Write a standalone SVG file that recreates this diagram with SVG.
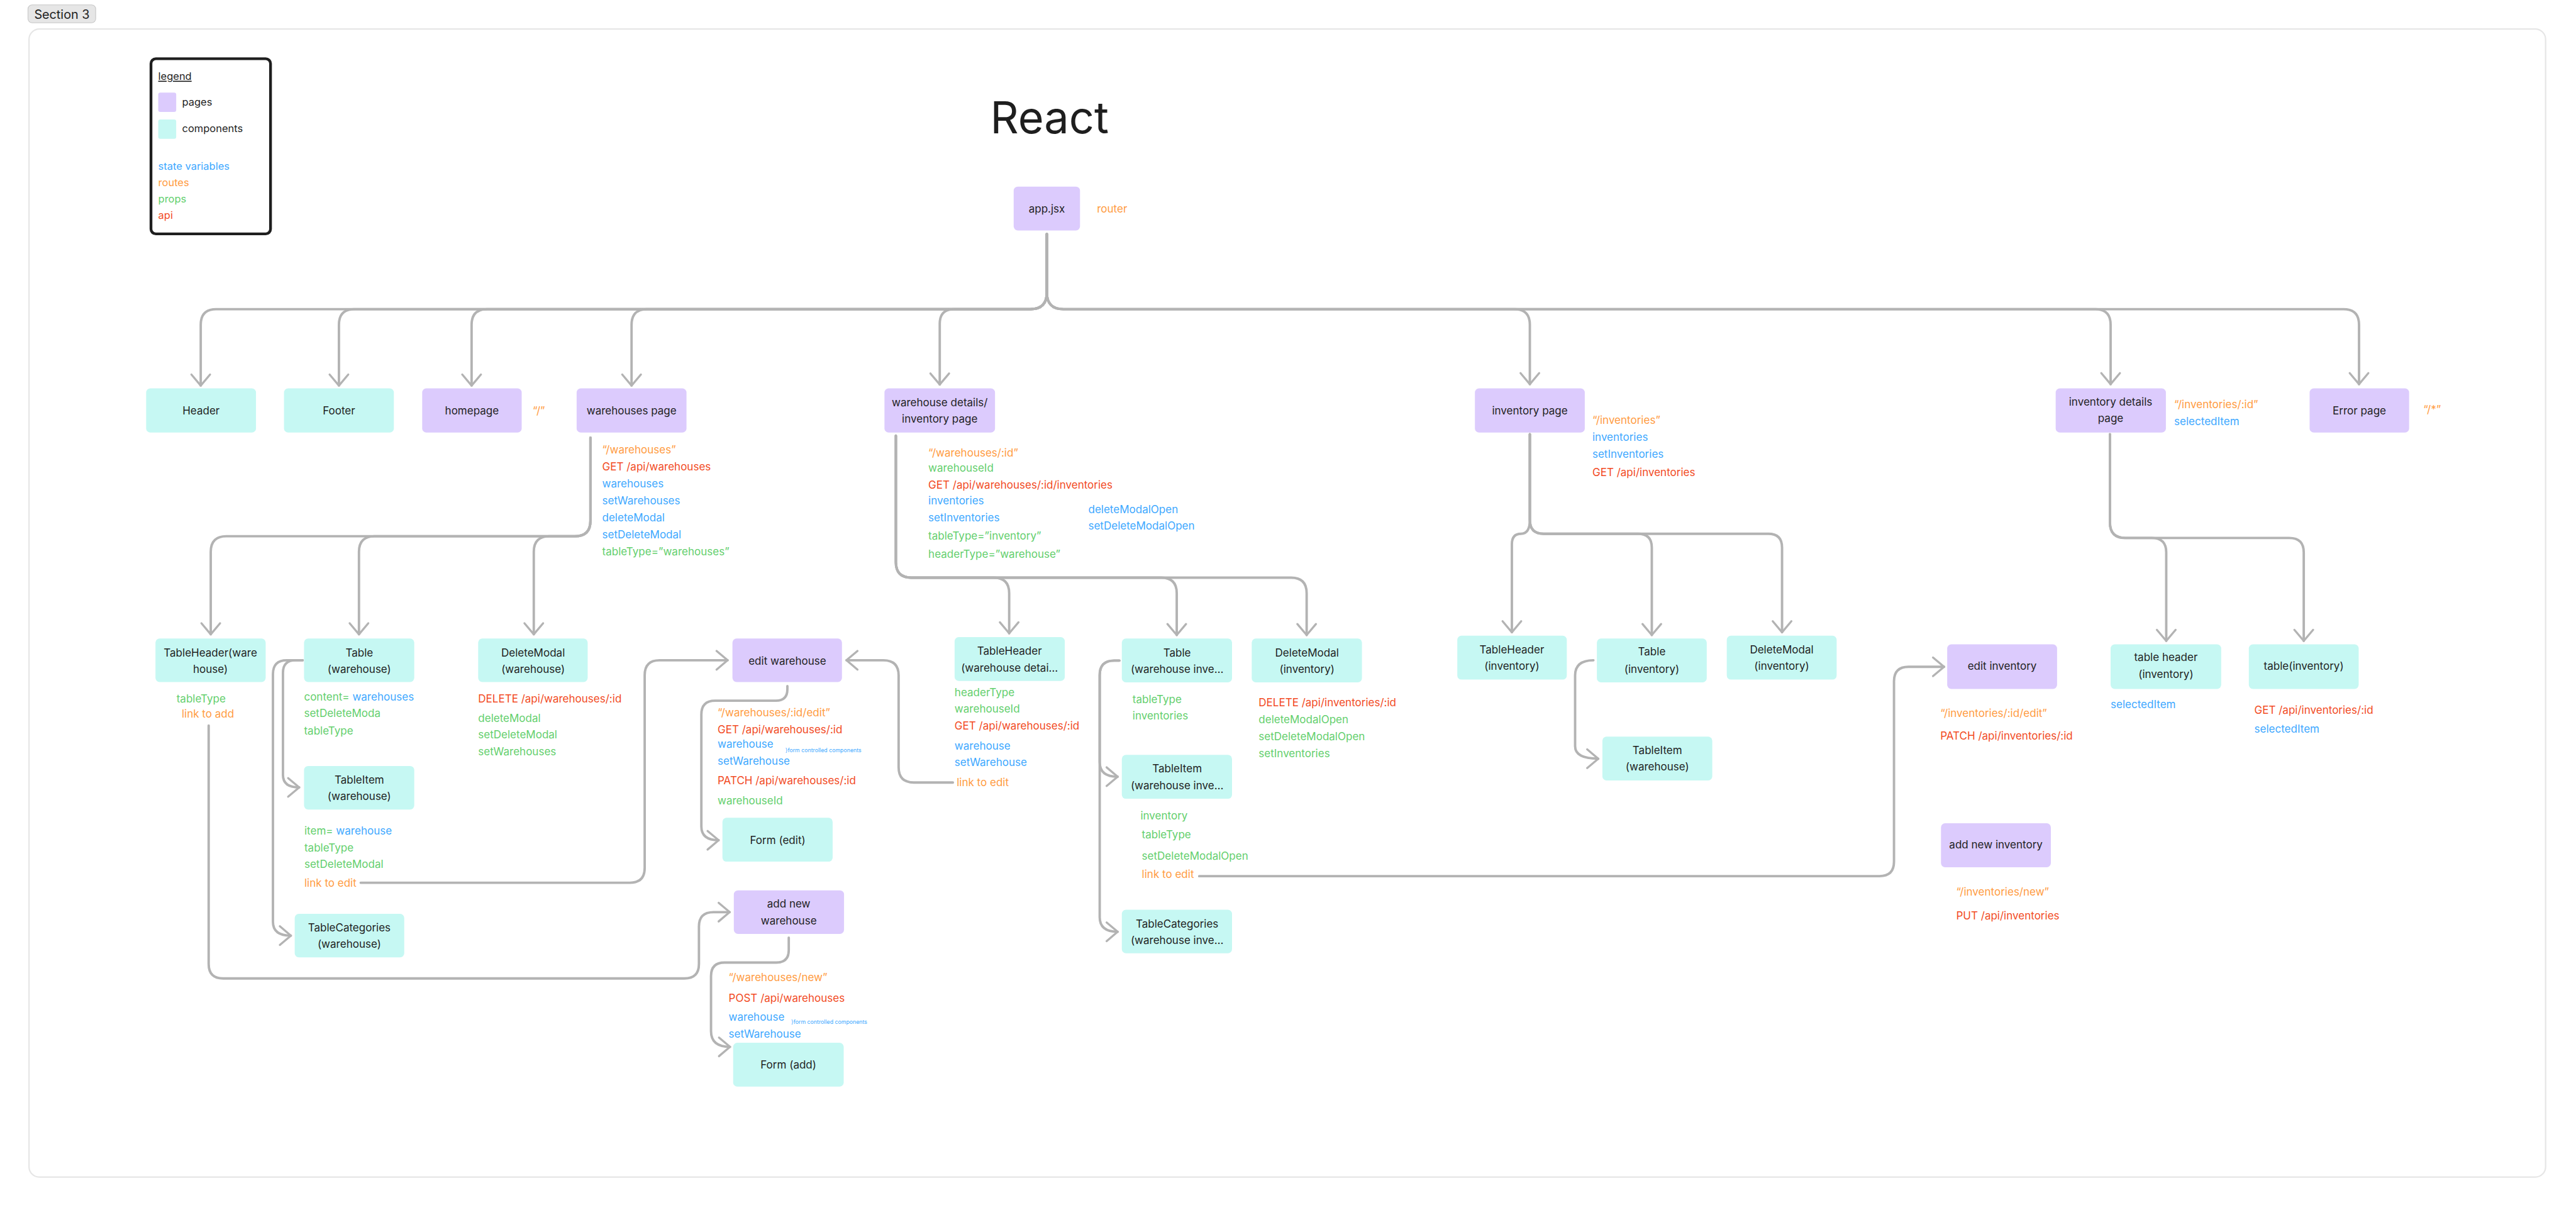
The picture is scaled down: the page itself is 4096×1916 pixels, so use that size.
<svg xmlns="http://www.w3.org/2000/svg" width="4096" height="1916" viewBox="0 0 4096 1916">
<style>
.pg{fill:#dccbfd}
.cp{fill:#c6f8f3}
text{font-family:Inter,"Liberation Sans",sans-serif;font-size:31px}
.lbl{fill:#1e1e1e;text-anchor:middle}
.st{fill:#3da8ff}
.rt{fill:#ff9b3f}
.pr{fill:#63cf6d}
.api{fill:#f24a23}
.sm{font-size:16px}
.c{fill:none;stroke:#b3b3b3;stroke-width:7;stroke-linecap:round;stroke-linejoin:round;marker-end:url(#ah)}
</style>
<defs>
<marker id="ah" markerUnits="userSpaceOnUse" markerWidth="80" markerHeight="80" viewBox="-40 -40 80 80" refX="0" refY="0" orient="auto" overflow="visible">
<path d="M -32 -27 L 0 0 L -32 27" fill="none" stroke="#b3b3b3" stroke-width="6" stroke-linecap="round" stroke-linejoin="round"/>
</marker>
</defs>
<rect width="4096" height="1916" fill="#ffffff"/>
<g transform="scale(0.549356)">
<!-- section frame -->
<rect x="84" y="84" width="7284" height="3323" rx="30" fill="none" stroke="#e6e6e6" stroke-width="4"/>
<g id="section-label">
<rect x="81" y="14" width="196" height="52" rx="12" fill="#e6e6e6" stroke="#c8c8c8" stroke-width="2"/>
<text x="99" y="55" style="font-size:36px" fill="#1e1e1e">Section 3</text>
</g>
<!-- legend -->
<g id="legend">
<rect x="437" y="170" width="346" height="507" rx="14" fill="#ffffff" stroke="#1e1e1e" stroke-width="8"/>
<text x="458" y="232" fill="#1e1e1e" text-decoration="underline" style="font-size:30px">legend</text>
<rect x="458" y="268" width="52" height="56" rx="6" class="pg"/>
<text x="527" y="305" fill="#1e1e1e" style="font-size:30px">pages</text>
<rect x="458" y="346" width="52" height="56" rx="6" class="cp"/>
<text x="527" y="383" fill="#1e1e1e" style="font-size:30px">components</text>
<text x="458" y="491" class="st" style="font-size:30px">state variables</text>
<text x="458" y="539" class="rt" style="font-size:30px">routes</text>
<text x="458" y="587" class="pr" style="font-size:30px">props</text>
<text x="458" y="634" class="api" style="font-size:30px">api</text>
</g>
<text id="title" x="2866" y="386" fill="#1e1e1e" style="font-size:128px">React</text>

<!-- connectors -->
<g id="connectors">
<path class="c" d="M 3030 677 V 847 Q 3030 895 2982 895 H 626 Q 581 895 581 940 V 1116"/>
<path class="c" d="M 3030 677 V 847 Q 3030 895 2982 895 H 1026 Q 981 895 981 940 V 1116"/>
<path class="c" d="M 3030 677 V 847 Q 3030 895 2982 895 H 1410 Q 1365 895 1365 940 V 1116"/>
<path class="c" d="M 3030 677 V 847 Q 3030 895 2982 895 H 1873 Q 1828 895 1828 940 V 1116"/>
<path class="c" d="M 3030 677 V 847 Q 3030 895 2982 895 H 2762 Q 2720 895 2720 937 V 1113"/>
<path class="c" d="M 3030 677 V 847 Q 3030 895 3078 895 H 4383 Q 4428 895 4428 940 V 1112"/>
<path class="c" d="M 3030 677 V 847 Q 3030 895 3078 895 H 6064 Q 6109 895 6109 940 V 1112"/>
<path class="c" d="M 3030 677 V 847 Q 3030 895 3078 895 H 6783 Q 6828 895 6828 940 V 1112"/>

<path class="c" d="M 1709 1267 V 1507 Q 1709 1552 1664 1552 H 655 Q 610 1552 610 1597 V 1836"/>
<path class="c" d="M 1709 1267 V 1507 Q 1709 1552 1664 1552 H 1084 Q 1039 1552 1039 1597 V 1836"/>
<path class="c" d="M 1709 1267 V 1507 Q 1709 1552 1664 1552 H 1590 Q 1545 1552 1545 1597 V 1836"/>

<path class="c" d="M 876 1911 H 855 Q 819 1911 819 1947 V 2243 Q 819 2279 866 2279"/>
<path class="c" d="M 876 1911 H 830 Q 790 1911 790 1951 V 2668 Q 790 2708 842 2708"/>

<path class="c" d="M 604 2100 V 2790 Q 604 2832 646 2832 H 1981 Q 2023 2832 2023 2790 V 2682 Q 2023 2640 2065 2640 H 2112"/>
<path class="c" d="M 1044 2555 H 1823 Q 1866 2555 1866 2512 V 1954 Q 1866 1911 1909 1911 H 2106"/>
<path class="c" d="M 2279 1986 V 1995 Q 2279 2028 2246 2028 H 2070 Q 2030 2028 2030 2068 V 2392 Q 2030 2432 2080 2432"/>
<path class="c" d="M 2283 2714 V 2750 Q 2283 2786 2247 2786 H 2097 Q 2058 2786 2058 2825 V 2985 Q 2058 3030 2113 3030"/>

<path class="c" d="M 2593 1261 V 1627 Q 2593 1672 2638 1672 H 2876 Q 2921 1672 2921 1717 V 1833"/>
<path class="c" d="M 2593 1261 V 1627 Q 2593 1672 2638 1672 H 3361 Q 3406 1672 3406 1717 V 1838"/>
<path class="c" d="M 2593 1261 V 1627 Q 2593 1672 2638 1672 H 3737 Q 3782 1672 3782 1717 V 1838"/>

<path class="c" d="M 2758 2265 H 2645 Q 2601 2265 2601 2221 V 1955 Q 2601 1911 2557 1911 H 2450"/>

<path class="c" d="M 3240 1912 H 3225 Q 3183 1912 3183 1954 V 2206 Q 3183 2248 3235 2248"/>
<path class="c" d="M 3240 1912 H 3225 Q 3183 1912 3183 1954 V 2655 Q 3183 2697 3235 2697"/>

<path class="c" d="M 3471 2536 H 5440 Q 5482 2536 5482 2494 V 1972 Q 5482 1930 5524 1930 H 5627"/>

<path class="c" d="M 4428 1257 V 1505 Q 4428 1545 4402 1545 Q 4376 1545 4376 1575 V 1830"/>
<path class="c" d="M 4428 1257 V 1505 Q 4428 1545 4468 1545 H 4741 Q 4781 1545 4781 1585 V 1838"/>
<path class="c" d="M 4428 1257 V 1505 Q 4428 1545 4468 1545 H 5118 Q 5158 1545 5158 1585 V 1830"/>

<path class="c" d="M 4612 1911 Q 4559 1911 4559 1955 V 2160 Q 4559 2196 4626 2196"/>

<path class="c" d="M 6107 1257 V 1512 Q 6107 1557 6152 1557 H 6228 Q 6270 1557 6270 1599 V 1855"/>
<path class="c" d="M 6107 1257 V 1512 Q 6107 1557 6152 1557 H 6626 Q 6668 1557 6668 1599 V 1855"/>
</g>

<!-- nodes -->
<g id="app-jsx">
<rect x="2934" y="540" width="192" height="127" rx="12" class="pg"/>
<text x="3030" y="616" class="lbl">app.jsx</text>
<text x="3175" y="616" class="rt">router</text>
</g>

<g id="header"><rect x="423" y="1124" width="318" height="128" rx="12" class="cp"/><text x="582" y="1200" class="lbl">Header</text></g>
<g id="footer"><rect x="822" y="1124" width="318" height="128" rx="12" class="cp"/><text x="981" y="1200" class="lbl">Footer</text></g>
<g id="homepage"><rect x="1222" y="1124" width="288" height="128" rx="12" class="pg"/><text x="1366" y="1200" class="lbl">homepage</text>
<text x="1542" y="1200" class="rt">“/”</text></g>
<g id="warehouses-page"><rect x="1669" y="1124" width="318" height="128" rx="12" class="pg"/><text x="1828" y="1200" class="lbl">warehouses page</text>
<text x="1743" y="1313" class="rt">“/warehouses”</text>
<text x="1743" y="1362" class="api">GET /api/warehouses</text>
<text x="1743" y="1411" class="st">warehouses</text>
<text x="1743" y="1460" class="st">setWarehouses</text>
<text x="1743" y="1509" class="st">deleteModal</text>
<text x="1743" y="1558" class="st">setDeleteModal</text>
<text x="1743" y="1607" class="pr">tableType=”warehouses”</text>
</g>
<g id="warehouse-details-page"><rect x="2560" y="1124" width="320" height="128" rx="12" class="pg"/>
<text x="2720" y="1176" class="lbl">warehouse details/</text><text x="2720" y="1224" class="lbl">inventory page</text>
<text x="2687" y="1322" class="rt">“/warehouses/:id”</text>
<text x="2687" y="1366" class="pr">warehouseId</text>
<text x="2687" y="1414" class="api">GET /api/warehouses/:id/inventories</text>
<text x="2687" y="1460" class="st">inventories</text>
<text x="2687" y="1509" class="st">setInventories</text>
<text x="2687" y="1562" class="pr">tableType=”inventory”</text>
<text x="2687" y="1614" class="pr">headerType=”warehouse”</text>
<text x="3150" y="1485" class="st">deleteModalOpen</text>
<text x="3150" y="1533" class="st">setDeleteModalOpen</text>
</g>
<g id="inventory-page"><rect x="4269" y="1124" width="318" height="128" rx="12" class="pg"/><text x="4428" y="1200" class="lbl">inventory page</text>
<text x="4609" y="1226" class="rt">“/inventories”</text>
<text x="4609" y="1276" class="st">inventories</text>
<text x="4609" y="1325" class="st">setInventories</text>
<text x="4609" y="1378" class="api">GET /api/inventories</text>
</g>
<g id="inventory-details-page"><rect x="5950" y="1124" width="319" height="128" rx="12" class="pg"/>
<text x="6109" y="1174" class="lbl">inventory details</text><text x="6109" y="1222" class="lbl">page</text>
<text x="6293" y="1182" class="rt">“/inventories/:id”</text>
<text x="6293" y="1230" class="st">selectedItem</text>
</g>
<g id="error-page"><rect x="6685" y="1124" width="288" height="128" rx="12" class="pg"/><text x="6829" y="1200" class="lbl">Error page</text>
<text x="7014" y="1196" class="rt">“/*”</text></g>

<g id="tableheader-warehouse"><rect x="450" y="1848" width="319" height="126" rx="12" class="cp"/>
<text x="609" y="1900" class="lbl">TableHeader(ware</text><text x="609" y="1947" class="lbl">house)</text>
<text x="511" y="2033" class="pr">tableType</text>
<text x="526" y="2077" class="rt">link to add</text></g>
<g id="table-warehouse"><rect x="880" y="1848" width="319" height="126" rx="12" class="cp"/>
<text x="1040" y="1900" class="lbl">Table</text><text x="1040" y="1947" class="lbl">(warehouse)</text>
<text x="880" y="2028"><tspan class="pr">content= </tspan><tspan class="st">warehouses</tspan></text>
<text x="880" y="2076" class="pr">setDeleteModa</text>
<text x="880" y="2126" class="pr">tableType</text></g>
<g id="deletemodal-warehouse"><rect x="1384" y="1848" width="317" height="126" rx="12" class="cp"/>
<text x="1543" y="1900" class="lbl">DeleteModal</text><text x="1543" y="1947" class="lbl">(warehouse)</text>
<text x="1384" y="2033" class="api">DELETE /api/warehouses/:id</text>
<text x="1384" y="2089" class="pr">deleteModal</text>
<text x="1384" y="2137" class="pr">setDeleteModal</text>
<text x="1384" y="2186" class="pr">setWarehouses</text></g>
<g id="tableitem-warehouse"><rect x="880" y="2217" width="319" height="126" rx="12" class="cp"/>
<text x="1040" y="2268" class="lbl">TableItem</text><text x="1040" y="2315" class="lbl">(warehouse)</text>
<text x="881" y="2416"><tspan class="pr">item= </tspan><tspan class="st">warehouse</tspan></text>
<text x="881" y="2464" class="pr">tableType</text>
<text x="881" y="2512" class="pr">setDeleteModal</text>
<text x="881" y="2566" class="rt">link to edit</text></g>
<g id="tablecategories-warehouse"><rect x="853" y="2645" width="317" height="126" rx="12" class="cp"/>
<text x="1011" y="2695" class="lbl">TableCategories</text><text x="1011" y="2744" class="lbl">(warehouse)</text></g>

<g id="edit-warehouse"><rect x="2120" y="1848" width="317" height="126" rx="12" class="pg"/>
<text x="2279" y="1924" class="lbl">edit warehouse</text>
<text x="2077" y="2074" class="rt">“/warehouses/:id/edit”</text>
<text x="2077" y="2123" class="api">GET /api/warehouses/:id</text>
<text x="2077" y="2165" class="st">warehouse</text>
<text x="2273" y="2177" class="st sm">}form controlled components</text>
<text x="2077" y="2213" class="st">setWarehouse</text>
<text x="2077" y="2270" class="api">PATCH /api/warehouses/:id</text>
<text x="2077" y="2328" class="pr">warehouseId</text></g>
<g id="form-edit"><rect x="2091" y="2367" width="319" height="127" rx="12" class="cp"/>
<text x="2251" y="2442" class="lbl">Form (edit)</text></g>
<g id="add-new-warehouse"><rect x="2124" y="2577" width="319" height="126" rx="12" class="pg"/>
<text x="2283" y="2627" class="lbl">add new</text><text x="2283" y="2676" class="lbl">warehouse</text>
<text x="2109" y="2840" class="rt">“/warehouses/new”</text>
<text x="2109" y="2900" class="api">POST /api/warehouses</text>
<text x="2109" y="2955" class="st">warehouse</text>
<text x="2290" y="2963" class="st sm">}form controlled components</text>
<text x="2109" y="3003" class="st">setWarehouse</text></g>
<g id="form-add"><rect x="2122" y="3018" width="320" height="127" rx="12" class="cp"/>
<text x="2282" y="3093" class="lbl">Form (add)</text></g>

<g id="tableheader-warehouse-details"><rect x="2763" y="1844" width="319" height="127" rx="12" class="cp"/>
<text x="2922" y="1895" class="lbl">TableHeader</text><text x="2922" y="1944" class="lbl">(warehouse detai…</text>
<text x="2763" y="2015" class="pr">headerType</text>
<text x="2763" y="2063" class="pr">warehouseId</text>
<text x="2763" y="2111" class="api">GET /api/warehouses/:id</text>
<text x="2763" y="2169" class="st">warehouse</text>
<text x="2763" y="2217" class="st">setWarehouse</text>
<text x="2769" y="2275" class="rt">link to edit</text></g>
<g id="table-warehouse-inventory"><rect x="3247" y="1848" width="319" height="127" rx="12" class="cp"/>
<text x="3407" y="1900" class="lbl">Table</text><text x="3407" y="1948" class="lbl">(warehouse inve…</text>
<text x="3278" y="2035" class="pr">tableType</text>
<text x="3278" y="2082" class="pr">inventories</text></g>
<g id="deletemodal-inventory-wd"><rect x="3623" y="1848" width="319" height="127" rx="12" class="cp"/>
<text x="3783" y="1900" class="lbl">DeleteModal</text><text x="3783" y="1948" class="lbl">(inventory)</text>
<text x="3643" y="2045" class="api">DELETE /api/inventories/:id</text>
<text x="3643" y="2094" class="pr">deleteModalOpen</text>
<text x="3643" y="2142" class="pr">setDeleteModalOpen</text>
<text x="3643" y="2191" class="pr">setInventories</text></g>
<g id="tableitem-warehouse-inventory"><rect x="3247" y="2185" width="319" height="127" rx="12" class="cp"/>
<text x="3407" y="2236" class="lbl">TableItem</text><text x="3407" y="2285" class="lbl">(warehouse inve…</text>
<text x="3301" y="2372" class="pr">inventory</text>
<text x="3305" y="2427" class="pr">tableType</text>
<text x="3305" y="2489" class="pr">setDeleteModalOpen</text>
<text x="3305" y="2542" class="rt">link to edit</text></g>
<g id="tablecategories-warehouse-inventory"><rect x="3247" y="2633" width="319" height="126" rx="12" class="cp"/>
<text x="3407" y="2685" class="lbl">TableCategories</text><text x="3407" y="2733" class="lbl">(warehouse inve…</text></g>

<g id="tableheader-inventory"><rect x="4218" y="1840" width="317" height="127" rx="12" class="cp"/>
<text x="4376" y="1891" class="lbl">TableHeader</text><text x="4376" y="1939" class="lbl">(inventory)</text></g>
<g id="table-inventory"><rect x="4622" y="1848" width="318" height="127" rx="12" class="cp"/>
<text x="4781" y="1897" class="lbl">Table</text><text x="4781" y="1947" class="lbl">(inventory)</text></g>
<g id="deletemodal-inventory"><rect x="4998" y="1840" width="318" height="127" rx="12" class="cp"/>
<text x="5157" y="1891" class="lbl">DeleteModal</text><text x="5157" y="1939" class="lbl">(inventory)</text></g>
<g id="tableitem-warehouse-inv"><rect x="4638" y="2132" width="318" height="127" rx="12" class="cp"/>
<text x="4797" y="2182" class="lbl">TableItem</text><text x="4797" y="2230" class="lbl">(warehouse)</text></g>

<g id="edit-inventory"><rect x="5636" y="1865" width="318" height="129" rx="12" class="pg"/>
<text x="5795" y="1939" class="lbl">edit inventory</text>
<text x="5616" y="2076" class="rt">“/inventories/:id/edit”</text>
<text x="5616" y="2140" class="api">PATCH /api/inventories/:id</text></g>
<g id="add-new-inventory"><rect x="5618" y="2383" width="318" height="127" rx="12" class="pg"/>
<text x="5777" y="2456" class="lbl">add new inventory</text>
<text x="5662" y="2592" class="rt">“/inventories/new”</text>
<text x="5662" y="2662" class="api">PUT /api/inventories</text></g>
<g id="table-header-inventory"><rect x="6109" y="1865" width="320" height="129" rx="12" class="cp"/>
<text x="6269" y="1914" class="lbl">table header</text><text x="6269" y="1963" class="lbl">(inventory)</text>
<text x="6109" y="2050" class="st">selectedItem</text></g>
<g id="table-inventory-details"><rect x="6509" y="1865" width="318" height="129" rx="12" class="cp"/>
<text x="6668" y="1939" class="lbl">table(inventory)</text>
<text x="6525" y="2066" class="api">GET /api/inventories/:id</text>
<text x="6525" y="2121" class="st">selectedItem</text></g>
</g>
</svg>
